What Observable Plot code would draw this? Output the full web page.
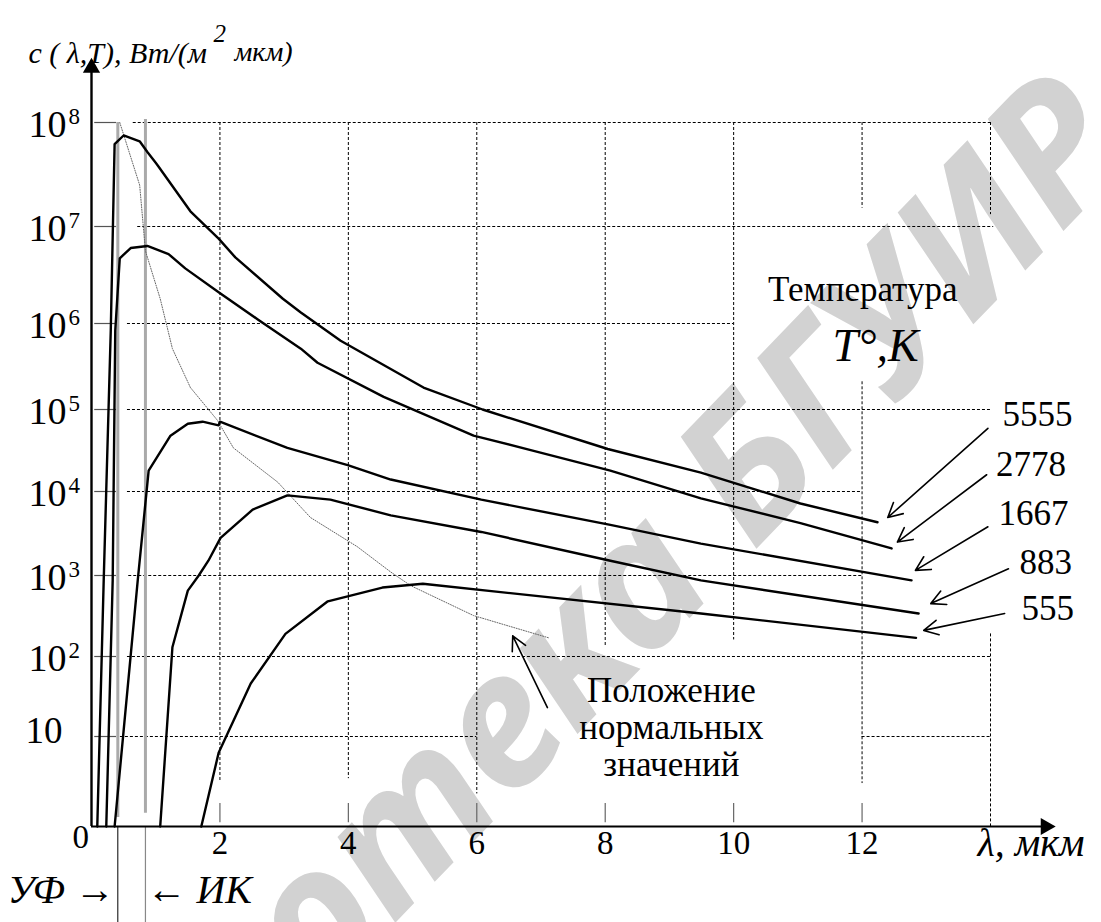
<!DOCTYPE html>
<html><head><meta charset="utf-8">
<script src="https://cdn.jsdelivr.net/npm/d3@7"></script>
<script src="https://cdn.jsdelivr.net/npm/@observablehq/plot@0.6"></script>
<style>html,body{margin:0;padding:0;background:#fff;} svg{display:block}</style>
</head><body><div id="chart"></div>
<script>
// ---- data ----
const temperatures = [5555, 2778, 1667, 883, 555];
const lambda5555 = [0.09,0.19,0.30,0.36,0.50,0.75,0.87,1.00,1.04,1.54,1.98,2.24,2.98,3.26,3.88,5.17,6.09,8.04,9.49,11.04,12.24];
const c5555      = [1,870,8.3e5,6.2e7,7.5e7,6.6e7,5.2e7,4.1e7,3.8e7,1.4e7,7.5e6,4.8e6,1.8e6,1.3e6,6.3e5,1.8e5,1.0e5,3.3e4,1.7e4,7.2e3,4.3e3];
const lambda2778 = [0.23,0.33,0.37,0.44,0.61,0.87,1.20,1.46,1.98,2.59,3.26,3.52,4.55,5.95,6.84,8.08,9.49,11.04,12.46];
const c2778      = [1,870,8.3e5,4.7e6,6.0e6,6.3e6,5.2e6,3.7e6,2.1e6,1.1e6,5.1e5,3.5e5,1.4e5,4.8e4,3.2e4,1.8e4,8.3e3,4.2e3,2.1e3];
const lambda1667 = [0.36,0.72,0.89,1.23,1.50,1.73,1.98,2.00,3.05,3.99,4.66,6.07,8.08,9.49,12.77];
const c1667      = [1,870,1.8e4,4.8e4,6.7e4,7.1e4,6.4e4,7.1e4,3.4e4,2.1e4,1.4e4,8.0e3,4.0e3,2.4e3,870];
const lambda883  = [1.07,1.26,1.50,1.67,1.82,2.01,2.51,3.05,3.72,4.66,6.07,8.08,9.49,12.88];
const c883       = [1,130,650,1000,1500,2800,6100,9000,8000,5200,3300,1500,870,340];
const lambda555  = [1.71,1.98,2.48,3.02,3.68,4.53,5.16,9.49,12.84];
const c555       = [1,6.6,46,190,480,710,790,340,170];
const seriesLambda = [lambda5555, lambda2778, lambda1667, lambda883, lambda555];
const seriesC = [c5555, c2778, c1667, c883, c555];

// locus of maxima ("normal values"), dotted
const normLambda = [0.44,0.75,0.84,1.07,1.26,1.54,1.96,2.21,2.90,3.41,4.14,4.66,4.97,5.95,6.48,7.12];
const normC      = [1e8,2.5e7,5.6e6,1.8e6,5.1e5,1.8e5,7.4e4,3.4e4,1.3e4,4.9e3,2.2e3,1.1e3,750,320,240,170];

// axes / ticks
const yDecades = [1, 10, 100, 1e3, 1e4, 1e5, 1e6, 1e7, 1e8];
const yTickValues = [1e8, 1e7, 1e6, 1e5, 1e4, 1e3, 100];
const yTickExponents = ["8", "7", "6", "5", "4", "3", "2"];
const xTicks = [2, 4, 6, 8, 10, 12];
const xTickLabels = ["2", "4", "6", "8", "10", "12"];

// grid segments (dashed)
const hGridValue = [1e8, 1e7, 1e6, 1e5, 1e4, 1e3, 100, 10, 10];
const hGridFrom  = [0.65, 0.72, 0.56, 0.56, 0.56, 0.58, 0.56, 0.45, 12];
const hGridTo    = [14, 14.05, 10, 14, 12, 12, 14, 6, 14];
const vGridX      = [2, 4, 6, 8, 10, 12, 12, 14, 14];
const vGridTop    = [1e8, 1e8, 1e8, 1e8, 1e8, 1e8, 2.1e5, 1e8, 190];
const vGridBottom = [3.1, 3.4, 2.3, 130, 160, 1.5e7, 3.0, 1.3e7, 1];

// UV / IR boundaries
const uvLambda = 0.41, irLambda = 0.84;

// series labels and their arrows
const labelText  = ["5555", "2778", "1667", "883", "555"];
const labelX     = [14.73, 14.63, 14.67, 14.86, 14.89];
const labelY     = [8.5e4, 2.1e4, 5.5e3, 1.4e3, 390];
const arrowFromX = [13.96, 13.94, 13.96, 14.28, 14.22];
const arrowFromY = [5.9e4, 1.6e4, 3.8e3, 1.2e3, 340];
const arrowToX   = [12.40, 12.55, 12.83, 13.07, 12.96];
const arrowToY   = [4.9e3, 2.5e3, 1.15e3, 450, 210];

// other annotations
const tempTitle = "Температура", tempTitleX = 12.01, tempTitleY = 2.2e6;
const tempUnit = "T°,K", tempUnitX = 12.21, tempUnitY = 5.4e5;
const noteText = "Положение\nнормальных\nзначений", noteX = 9.03, noteY = 13;
const noteArrowFrom = [7.10, 23], noteArrowTo = [6.56, 180];
const yAxisTitle = ["c ( λ,T), Вт/(м", "2", "мкм)"];
const xAxisTitle = "λ, мкм";
const uvLabel = "УФ →", irLabel = "← ИК";
const watermark = "Библиотека БГУИР", watermarkX = 6.3, watermarkY = 11;
const xAxisEnd = 14.86, yAxisEnd = 3.16e8, yArrowAt = 3.36e8;

// ---- build tables ----
const curveRows = [];
temperatures.forEach((T, k) => seriesLambda[k].forEach((l, i) => curveRows.push({T, lam: l, c: seriesC[k][i]})));
const normRows = normLambda.map((l, i) => ({lam: l, c: normC[i]}));
const hGrid = hGridValue.map((v, i) => ({v, from: hGridFrom[i], to: hGridTo[i]}));
const vGrid = vGridX.map((v, i) => ({v, top: vGridTop[i], bottom: vGridBottom[i]}));
const labels = labelText.map((t, i) => ({t, x: labelX[i], y: labelY[i], x1: arrowFromX[i], y1: arrowFromY[i], x2: arrowToX[i], y2: arrowToY[i]}));

const serif = "Liberation Serif";
const T = (data, opts) => Plot.text(data, {fontFamily: serif, ...opts});

const chart = Plot.plot({
  width: 1101, height: 922,
  marginLeft: 91, marginRight: 111, marginTop: 122, marginBottom: 96,
  style: {fontFamily: serif, background: "#fff", color: "#000", overflow: "visible"},
  x: {domain: [0, 14], axis: null},
  y: {type: "log", domain: yDecades, range: [826, 736, 656, 575, 491, 409, 323, 226, 122], axis: null},
  marks: [
    // watermark
    Plot.text([watermark], {x: () => watermarkX, y: () => watermarkY, text: d => d, rotate: -46, fontSize: 185,
      fill: "#d2d2d2", fontFamily: "Noto Sans", fontStyle: "italic", fontWeight: "bold", textAnchor: "middle", lineAnchor: "middle"}),
    // dashed grid
    Plot.ruleY(hGrid, {y: "v", x1: "from", x2: "to", stroke: "#000", strokeWidth: 1, strokeDasharray: "3,2"}),
    Plot.ruleX(vGrid, {x: "v", y1: "top", y2: "bottom", stroke: "#000", strokeWidth: 1, strokeDasharray: "3,2"}),
    // tick marks
    Plot.ruleY(yDecades.slice(1), {y: d => d, x1: 0.05, x2: 0.39, stroke: "#555", strokeWidth: 1.2}),
    Plot.ruleX(xTicks, {x: d => d, y1: 1.1, y2: 1.8, stroke: "#666", strokeWidth: 1.2}),
    // UV / IR boundaries
    Plot.ruleX([uvLambda], {x: d => d, y1: 1.26, y2: 1e8, stroke: "#aaa", strokeWidth: 3}),
    Plot.ruleX([irLambda], {x: d => d, y1: 1.4, y2: 1.07e8, stroke: "#aaa", strokeWidth: 3}),
    Plot.ruleX([uvLambda], {x: d => d, y1: 1, y2: 0.08, stroke: "#000", strokeWidth: 1}),
    Plot.ruleX([irLambda], {x: d => d, y1: 1, y2: 0.08, stroke: "#888", strokeWidth: 1.2}),
    // locus of maxima
    Plot.line(normRows, {x: "lam", y: "c", stroke: "#666", strokeWidth: 1, strokeDasharray: "1,1.5"}),
    // spectral curves
    Plot.line(curveRows, {x: "lam", y: "c", z: "T", stroke: "#000", strokeWidth: 2.4, strokeLinejoin: "round"}),
    // axes
    Plot.ruleY([1], {y: d => d, x1: 0, x2: xAxisEnd, stroke: "#000", strokeWidth: 2.2}),
    Plot.ruleX([0], {x: d => d, y1: 1, y2: yAxisEnd, stroke: "#000", strokeWidth: 2.4}),
    Plot.dot([xAxisEnd], {x: d => d, y: () => 1, symbol: "triangle", r: 6.4, rotate: 90, fill: "#000", stroke: "none"}),
    Plot.dot([0], {x: d => d, y: () => yArrowAt, symbol: "triangle", r: 6.4, fill: "#000", stroke: "none"}),
    // y tick labels
    T(yTickValues, {y: d => d, frameAnchor: "left", dx: -25, dy: 2, text: () => "10", textAnchor: "end", fontSize: 38}),
    T(yTickValues, {y: d => d, frameAnchor: "left", dx: -23, dy: -6, text: (d, i) => yTickExponents[i], textAnchor: "start", fontSize: 23}),
    T([10], {y: d => d, frameAnchor: "left", dx: -29, dy: -5, text: () => "10", textAnchor: "end", fontSize: 37}),
    T(["0"], {frameAnchor: "bottom-left", dx: -19, dy: 21, text: d => d, fontSize: 33}),
    // x tick labels
    T(xTicks, {x: d => d, frameAnchor: "bottom", dy: 27, text: (d, i) => xTickLabels[i], fontSize: 33}),
    // axis titles
    T([yAxisTitle[0]], {frameAnchor: "top-left", dx: -63, dy: -81, text: d => d, textAnchor: "start", fontSize: 30, fontStyle: "italic"}),
    T([yAxisTitle[1]], {frameAnchor: "top-left", dx: 122, dy: -98, text: d => d, textAnchor: "start", fontSize: 25, fontStyle: "italic"}),
    T([yAxisTitle[2]], {frameAnchor: "top-left", dx: 143, dy: -81, text: d => d, textAnchor: "start", fontSize: 28, fontStyle: "italic"}),
    T([xAxisTitle], {frameAnchor: "bottom-right", dx: -13, dy: 29, text: d => d, textAnchor: "start", fontSize: 40, fontStyle: "italic"}),
    T([uvLabel], {x: () => uvLambda, frameAnchor: "bottom", dx: -3, dy: 76, text: d => d, textAnchor: "end", fontSize: 40, fontStyle: "italic"}),
    T([irLabel], {x: () => irLambda, frameAnchor: "bottom", dx: 1, dy: 76, text: d => d, textAnchor: "start", fontSize: 40, fontStyle: "italic"}),
    // legend-like annotations
    T([tempTitle], {x: () => tempTitleX, y: () => tempTitleY, text: d => d, fontSize: 35}),
    T([tempUnit], {x: () => tempUnitX, y: () => tempUnitY, text: d => d, fontSize: 46, fontStyle: "italic"}),
    T(labels, {x: "x", y: "y", text: "t", fontSize: 35}),
    Plot.arrow(labels, {x1: "x1", y1: "y1", x2: "x2", y2: "y2", stroke: "#000", strokeWidth: 1.6, headLength: 15, headAngle: 55}),
    T([noteText], {x: () => noteX, y: () => noteY, text: d => d, fontSize: 35, lineHeight: 1.06}),
    Plot.arrow([0], {x1: () => noteArrowFrom[0], y1: () => noteArrowFrom[1], x2: () => noteArrowTo[0], y2: () => noteArrowTo[1], stroke: "#000", strokeWidth: 1.6, headLength: 15, headAngle: 55})
  ]
});
document.getElementById("chart").append(chart);
</script>
</body></html>
